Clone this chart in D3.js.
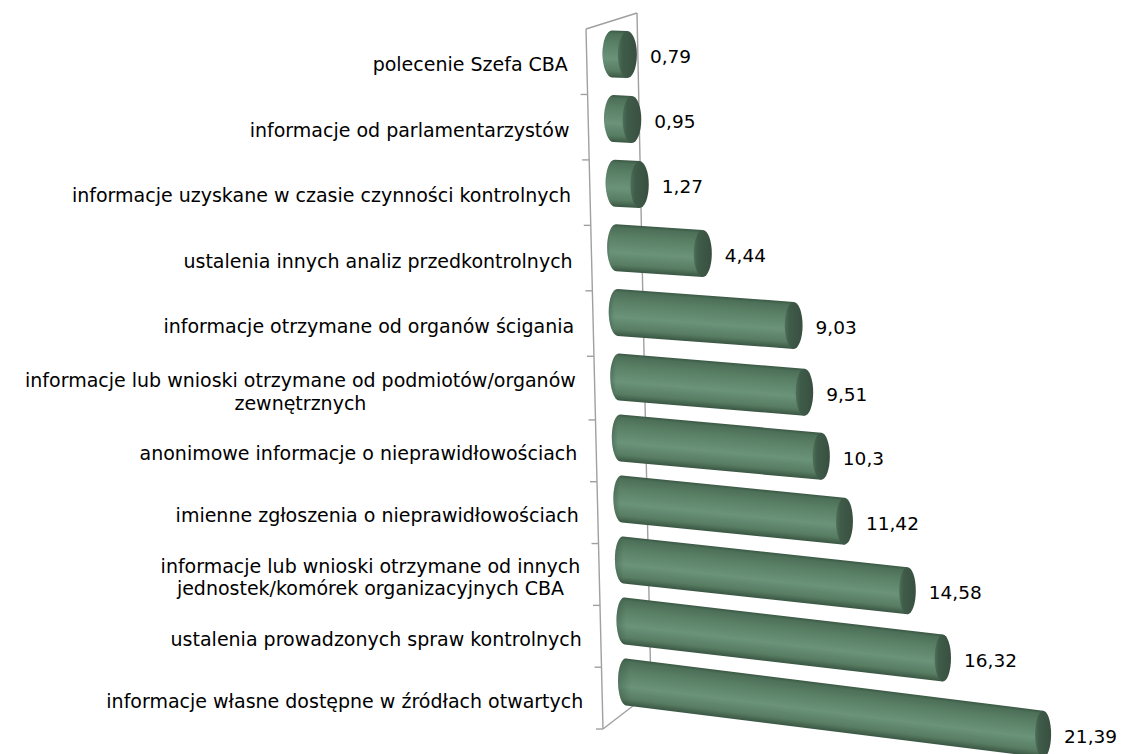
<!DOCTYPE html>
<html>
<head>
<meta charset="utf-8">
<script src="https://cdn.jsdelivr.net/npm/d3@7"></script>
<style>
  body { margin: 0; background: #fff; }
  text { font-family: "DejaVu Sans", sans-serif; fill: #000; }
</style>
</head>
<body>
<div id="chart"></div>
<script>
// categories top to bottom ("\n" = line break in the label)
const categories = [
  "polecenie Szefa CBA",
  "informacje od parlamentarzystów",
  "informacje uzyskane w czasie czynności kontrolnych",
  "ustalenia innych analiz przedkontrolnych",
  "informacje otrzymane od organów ścigania",
  "informacje lub wnioski otrzymane od podmiotów/organów\nzewnętrznych",
  "anonimowe informacje o nieprawidłowościach",
  "imienne zgłoszenia o nieprawidłowościach",
  "informacje lub wnioski otrzymane od innych\njednostek/komórek organizacyjnych CBA",
  "ustalenia prowadzonych spraw kontrolnych",
  "informacje własne dostępne w źródłach otwartych"
];
const values = [0.79, 0.95, 1.27, 4.44, 9.03, 9.51, 10.3, 11.42, 14.58, 16.32, 21.39];

const config = { width: 1124, height: 754, ry: 23.5 };
const n = categories.length;

const svg = d3.select("#chart").append("svg")
    .attr("width", config.width)
    .attr("height", config.height);

const pl = d3.formatLocale({ decimal: ",", thousands: " ", grouping: [3], currency: ["", " zł"] });
const fmt = pl.format("");

// "3D" frame: the category boundaries along the front axis get a bit tighter lower down
const bound = d3.scaleLinear().domain([0, n / 2, n]).range([29, 389, 729]);
const frontX = d3.scaleLinear().domain([29, 729]).range([586, 603]);
const backTop = [637, 13], backBottom = [651, 692];

// bars sit in the middle of the depth, slope grows towards the bottom (perspective)
const barY = d3.scaleLinear().domain([0, (n - 1) / 2, n - 1]).range([54, 377, 682]);
const barX = d3.scaleLinear().domain([0, n - 1]).range([612, 626]);
const slope = d3.scaleLinear().domain([0, n - 1]).range([0.04, 0.125]);
const capRx = d3.scaleLinear().domain([0, n - 1]).range([9.5, 8]);
const x = d3.scaleLinear().domain([0, 22]).range([0, 429]);

// gradients
const defs = svg.append("defs");
const bodyGrad = defs.append("linearGradient").attr("id", "bodyGrad")
    .attr("x1", 0).attr("y1", 0).attr("x2", 0).attr("y2", 1);
[[0, "#3b5845"], [0.07, "#4d7058"], [0.3, "#5b8267"], [0.6, "#6a937a"], [0.86, "#577c62"], [1, "#3a5643"]]
  .forEach(s => bodyGrad.append("stop").attr("offset", s[0]).attr("stop-color", s[1]));
const leftGrad = defs.append("linearGradient").attr("id", "leftGrad")
    .attr("x1", 0).attr("y1", 0).attr("x2", 1).attr("y2", 0);
[[0, "#2f4838", 0.35], [0.03, "#2f4838", 0.0], [1, "#2f4838", 0]]
  .forEach(s => leftGrad.append("stop").attr("offset", s[0]).attr("stop-color", s[1]).attr("stop-opacity", s[2]));
const capGrad = defs.append("linearGradient").attr("id", "capGrad")
    .attr("x1", 0).attr("y1", 0).attr("x2", 1).attr("y2", 0);
[[0, "#4e705a"], [0.25, "#3f5c49"], [1, "#394f40"]]
  .forEach(s => capGrad.append("stop").attr("offset", s[0]).attr("stop-color", s[1]));

// back frame lines (behind the bars)
const frame = svg.append("g").attr("stroke", "#a0a0a0").attr("stroke-width", 1.4).attr("fill", "none");
frame.append("line").attr("x1", frontX(29)).attr("y1", 29).attr("x2", backTop[0]).attr("y2", backTop[1]);
frame.append("line").attr("x1", backTop[0]).attr("y1", backTop[1]).attr("x2", backBottom[0]).attr("y2", backBottom[1]);
frame.append("line").attr("x1", frontX(729)).attr("y1", 729).attr("x2", backBottom[0]).attr("y2", backBottom[1]);

// front category axis + ticks
frame.append("line").attr("x1", frontX(29)).attr("y1", 29).attr("x2", frontX(729)).attr("y2", 729);
d3.range(1, n + 1).forEach(k => {
  const y = bound(k);
  frame.append("line").attr("x1", frontX(y) - 7).attr("y1", y).attr("x2", frontX(y)).attr("y2", y);
});

// cylinders
const ry = config.ry;
values.forEach((v, i) => {
  const xL = barX(i), yL = barY(i), s = slope(i), L = x(v), rx = capRx(i);
  const g = svg.append("g")
      .attr("transform", `translate(${xL},${yL}) skewY(${Math.atan(s) * 180 / Math.PI})`);
  const body = `M0,${-ry}H${L}V${ry}H0A${rx},${ry} 0 0 1 0,${-ry}Z`;
  g.append("path").attr("d", body).attr("fill", "url(#bodyGrad)");
  g.append("path").attr("d", body).attr("fill", "url(#leftGrad)");

  const xR = xL + L, yR = yL + s * L;
  svg.append("ellipse")
      .attr("cx", xR).attr("cy", yR)
      .attr("rx", rx).attr("ry", ry)
      .attr("fill", "url(#capGrad)");

  svg.append("text")
      .attr("x", xR + rx + 13)
      .attr("y", yR + 2)
      .attr("dy", "0.35em")
      .style("font-size", "18.5px")
      .text(fmt(v));
});

// category labels, right aligned against the front axis, multi-line blocks centred
categories.forEach((c, i) => {
  const yc = bound(i + 0.5) + 3;
  const right = frontX(yc) - 19;
  const lines = c.split("\n");
  const lh = 22.5;
  const t = svg.append("text")
      .style("font-size", "19px")
      .attr("text-anchor", "middle");
  lines.forEach((ln, j) => {
    t.append("tspan")
      .attr("y", yc + (j - (lines.length - 1) / 2) * lh)
      .attr("dy", "0.35em")
      .text(ln);
  });
  const w = d3.max(t.selectAll("tspan").nodes(), nd => nd.getComputedTextLength());
  t.selectAll("tspan").attr("x", right - w / 2);
});
</script>
</body>
</html>
